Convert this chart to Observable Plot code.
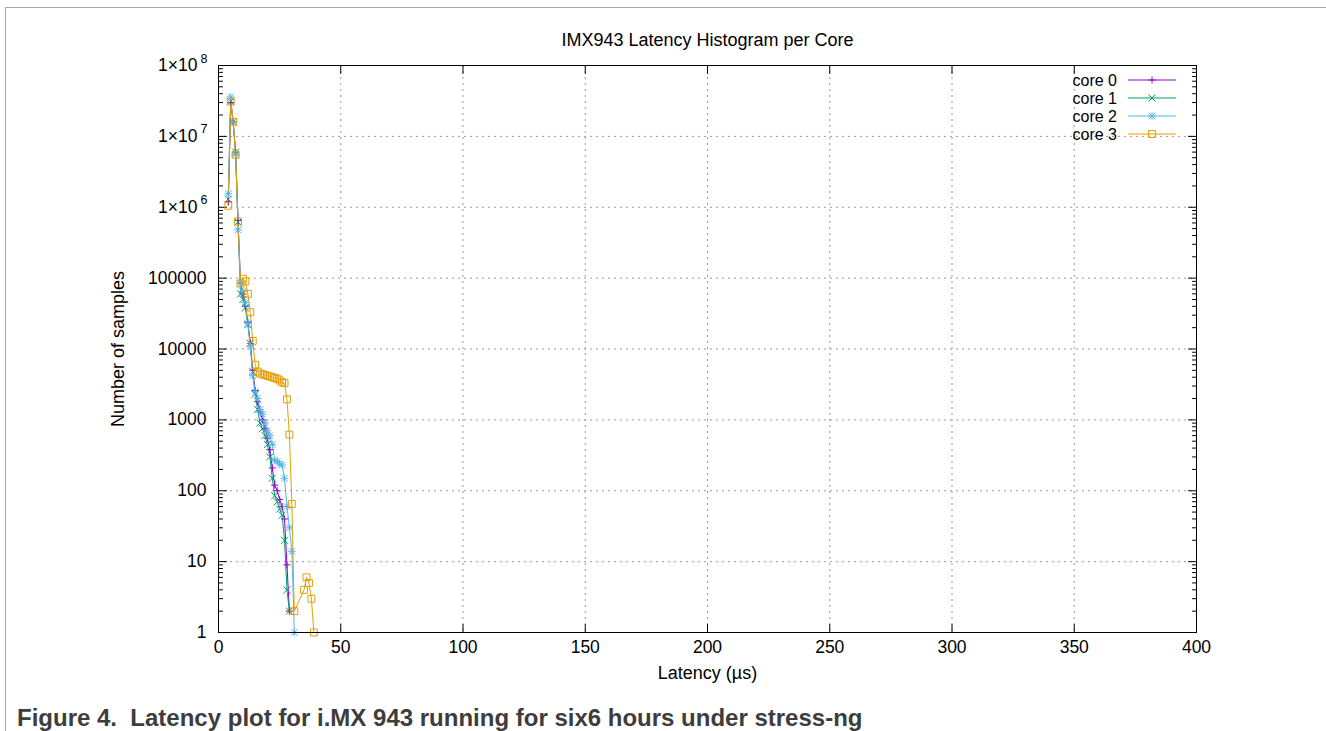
<!DOCTYPE html>
<html><head><meta charset="utf-8">
<script src="https://cdn.jsdelivr.net/npm/d3@7"></script>
<script src="https://cdn.jsdelivr.net/npm/@observablehq/plot@0.6"></script>
<style>
body{margin:0;background:#fff;font-family:"Liberation Sans",Arial,sans-serif;}
#wrap{position:relative;width:1326px;height:731px;overflow:hidden;background:#fff;}
#border{position:absolute;left:5px;top:7px;width:1340px;height:760px;border-left:1px solid #a9a9a9;border-top:1px solid #a9a9a9;}
#chart{position:absolute;left:0;top:0;}
#legend{position:absolute;left:0;top:0;}
#caption{position:absolute;left:17px;top:705px;font-weight:bold;font-size:24px;color:#3d3d3d;white-space:pre;line-height:26px;}
</style></head>
<body>
<div id="wrap">
  <div id="border"></div>
  <div id="chart"></div>
  <svg id="legend" width="1326" height="200"></svg>
  <div id="caption">Figure 4.  Latency plot for i.MX 943 running for six6 hours under stress-ng</div>
</div>
<script>
// ---- data ----
const seriesNames = ["core 0", "core 1", "core 2", "core 3"];
const seriesColors = ["#9400d3", "#009e73", "#56b4e9", "#e69f00"];

const core0Latency = [4,5,6,7,8,9,10,11,12,13,14,15,16,17,18,19,20,21,22,23,24,25,26,27,28,29];
const core0Count = [1.2e6,3.0e7,1.6e7,6.0e6,6.5e5,8.5e4,6e4,4e4,2.4e4,1.2e4,5e3,2.6e3,1.8e3,1.3e3,1000,750,550,380,210,120,100,75,60,40,9,2];

const core1Latency = [4,5,6,7,8,9,10,11,12,13,14,15,16,17,18,19,20,21,22,23,24,25,26,27,28,29];
const core1Count = [1.3e6,3.1e7,1.6e7,6.0e6,6.2e5,6e4,5e4,3.8e4,2.2e4,1.2e4,4.8e3,2.3e3,1.4e3,900,750,600,450,300,150,85,70,55,45,20,4,2];

const core2Latency = [4,5,6,7,8,9,10,11,12,13,14,15,16,17,18,19,20,21,22,23,24,25,26,27,28,29,30,31];
const core2Count = [1.55e6,3.6e7,1.6e7,5.6e6,4.8e5,8.5e4,6.5e4,4.5e4,2.3e4,1.1e4,4.2e3,2.5e3,2.0e3,1.4e3,1.2e3,900,700,600,450,270,260,240,230,150,60,30,14,1];

const core3Latency = [4,5,6,7,8,9,10,11,12,13,14,15,16,17,18,19,20,21,22,23,24,25,26,27,28,29,30,31,35,36,37,38,39];
const core3Count = [1.05e6,3.1e7,1.6e7,5.5e6,6.3e5,8.4e4,9.8e4,9.0e4,6e4,3.3e4,1.3e4,6e3,4.8e3,4.5e3,4.4e3,4.3e3,4.2e3,4.1e3,4.0e3,3.9e3,3.8e3,3.6e3,3.4e3,3.3e3,1.95e3,620,65,2,4,6,5,3,1];

const xTicks = [0,50,100,150,200,250,300,350,400];
const yTicksPlain = [1,10,100,1000,10000,100000];
const yTicksPlainLabels = ["1","10","100","1000","10000","100000"];
const yTicksPow = [1e6,1e7,1e8];
const yTicksPowBase = ["1×10","1×10","1×10"];
const yTicksPowExp = ["6","7","8"];

const titleText = "IMX943 Latency Histogram per Core";
const xLabel = "Latency (µs)";
const yLabel = "Number of samples";

// ---- build ----
const yTicks = [...yTicksPlain, ...yTicksPow];
const latencies = [core0Latency, core1Latency, core2Latency, core3Latency];
const counts = [core0Count, core1Count, core2Count, core3Count];
const rows = [];
seriesNames.forEach((name, s) => {
  latencies[s].forEach((x, i) => rows.push({core: name, latency: x, count: counts[s][i]}));
});
const minorTicks = [];
for (let k = 0; k < 8; k++) for (let m = 2; m <= 9; m++) minorTicks.push(m * Math.pow(10, k));

const tickShape = {draw(ctx, l) { ctx.moveTo(0, 0); ctx.lineTo(0, -l); }};
const colorOf = Object.fromEntries(seriesNames.map((n, i) => [n, seriesColors[i]]));
const bySeries = (n) => rows.filter(r => r.core === n);

const lineMarks = seriesNames.map(n => Plot.line(bySeries(n), {x: "latency", y: "count", stroke: colorOf[n], strokeWidth: 1}));
const dotMarks = [
  Plot.dot(bySeries("core 0"), {x: "latency", y: "count", symbol: "plus", r: 2.4, stroke: colorOf["core 0"], strokeWidth: 1}),
  Plot.dot(bySeries("core 1"), {x: "latency", y: "count", symbol: "times", r: 3.3, stroke: colorOf["core 1"], strokeWidth: 1}),
  Plot.dot(bySeries("core 2"), {x: "latency", y: "count", symbol: "plus", r: 2.6, stroke: colorOf["core 2"], strokeWidth: 1}),
  Plot.dot(bySeries("core 2"), {x: "latency", y: "count", symbol: "times", r: 3.0, stroke: colorOf["core 2"], strokeWidth: 1}),
  Plot.dot(bySeries("core 3"), {x: "latency", y: "count", symbol: "square", r: 3.9, fill: "none", stroke: colorOf["core 3"], strokeWidth: 1})
];

const tickFont = 17.5;
const chart = Plot.plot({
  width: 1326, height: 700,
  marginLeft: 218, marginRight: 130, marginTop: 65, marginBottom: 68,
  style: {fontFamily: "'Liberation Sans', Arial, sans-serif", fontSize: "17px", color: "#000", background: "transparent", overflow: "visible"},
  x: {domain: [0, 400]},
  y: {type: "log", domain: [1, 1e8]},
  marks: [
    Plot.gridX(xTicks.slice(1, -1), {stroke: "#9a9a9a", strokeOpacity: 1, strokeDasharray: "2,4", strokeWidth: 1}),
    Plot.gridY(yTicks.slice(1, -1), {stroke: "#9a9a9a", strokeOpacity: 1, strokeDasharray: "2,4", strokeWidth: 1}),
    Plot.axisX(xTicks, {tickSize: 0, tickPadding: 8, label: null, fontSize: tickFont, tickFormat: d => String(d)}),
    Plot.axisY(yTicksPlain, {tickSize: 0, tickPadding: 12, label: null, fontSize: tickFont, tickFormat: (d) => yTicksPlainLabels[yTicksPlain.indexOf(d)]}),
    Plot.axisY(yTicksPow, {tickSize: 0, tickPadding: 21, label: null, fontSize: tickFont, tickFormat: (d) => yTicksPowBase[yTicksPow.indexOf(d)]}),
    Plot.text(yTicksPow, {y: d => d, text: (d) => yTicksPowExp[yTicksPow.indexOf(d)], frameAnchor: "left", dx: -11, dy: -7, textAnchor: "end", lineAnchor: "middle", fontSize: 12.5, fill: "#000"}),
    Plot.vector(xTicks, {x: d => d, frameAnchor: "bottom", length: 8, anchor: "start", shape: tickShape, stroke: "#000", strokeWidth: 1}),
    Plot.vector(xTicks, {x: d => d, frameAnchor: "top", rotate: 180, length: 8, anchor: "start", shape: tickShape, stroke: "#000", strokeWidth: 1}),
    Plot.vector(yTicks, {y: d => d, frameAnchor: "left", rotate: 90, length: 8, anchor: "start", shape: tickShape, stroke: "#000", strokeWidth: 1}),
    Plot.vector(yTicks, {y: d => d, frameAnchor: "right", rotate: -90, length: 8, anchor: "start", shape: tickShape, stroke: "#000", strokeWidth: 1}),
    Plot.vector(minorTicks, {y: d => d, frameAnchor: "left", rotate: 90, length: 4, anchor: "start", shape: tickShape, stroke: "#000", strokeWidth: 1}),
    Plot.vector(minorTicks, {y: d => d, frameAnchor: "right", rotate: -90, length: 4, anchor: "start", shape: tickShape, stroke: "#000", strokeWidth: 1}),
    ...lineMarks,
    ...dotMarks,
    Plot.frame({stroke: "#000", strokeWidth: 1}),
    Plot.text([titleText], {frameAnchor: "top", dy: -25, lineAnchor: "middle", textAnchor: "middle", fontSize: 18, fill: "#000"}),
    Plot.text([xLabel], {frameAnchor: "bottom", dy: 41, lineAnchor: "middle", textAnchor: "middle", fontSize: 18, fill: "#000"}),
    Plot.text([yLabel], {frameAnchor: "left", dx: -100, rotate: -90, lineAnchor: "middle", textAnchor: "middle", fontSize: 18, fill: "#000"})
  ]
});
document.getElementById("chart").appendChild(chart);

// ---- legend (key box, top right inside the frame) ----
const lg = d3.select("#legend");
const symPaths = [
  [d3.symbol(d3.symbolPlus, 18)()],
  [d3.symbol(d3.symbolTimes, 34)()],
  [d3.symbol(d3.symbolPlus, 21)(), d3.symbol(d3.symbolTimes, 28)()],
  [d3.symbol(d3.symbolSquare, 48)()]
];
seriesNames.forEach((n, i) => {
  const cy = 80 + i * 18;
  const g = lg.append("g");
  g.append("text").attr("x", 1117).attr("y", cy).attr("dy", "0.36em").attr("text-anchor", "end")
    .attr("font-family", "'Liberation Sans', Arial, sans-serif").attr("font-size", 16).text(n);
  g.append("line").attr("x1", 1128).attr("x2", 1176).attr("y1", cy).attr("y2", cy).attr("stroke", seriesColors[i]).attr("stroke-width", 1);
  symPaths[i].forEach(p => g.append("path").attr("d", p).attr("transform", `translate(1152,${cy})`).attr("fill", "none").attr("stroke", seriesColors[i]).attr("stroke-width", 1));
});
</script>
</body></html>
